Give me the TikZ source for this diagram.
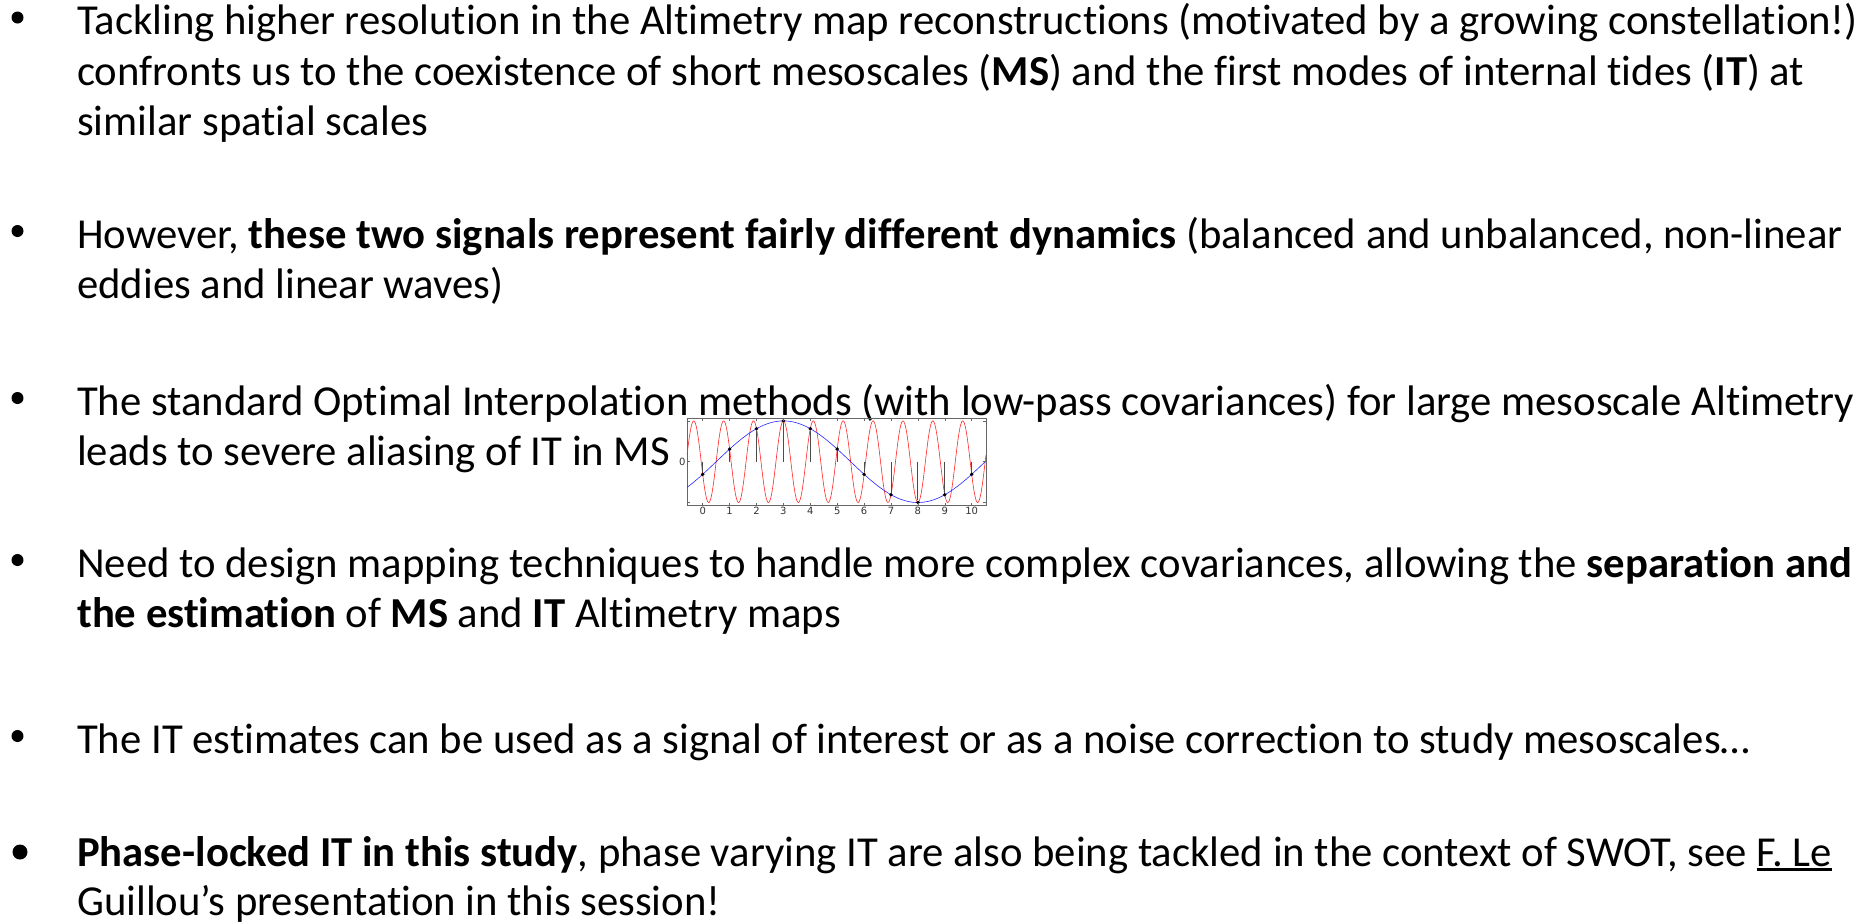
\documentclass[tikz,border=0pt]{standalone}
\usepackage{fontspec}
\setmainfont{Carlito}[Ligatures=NoCommon]
\newfontfamily\plotfont{DejaVu Sans}
\usetikzlibrary{positioning}
\tikzset{
    line/.style={anchor=base west, inner sep=0pt, font=\fontsize{42.7}{50}\selectfont},
    dot/.style={circle, fill, inner sep=0pt, minimum size=12pt},
    frame/.style={draw=black!60, line width=0.6pt},
    stem/.style={draw=black!70, line width=0.9pt},
    sample/.style={circle, fill, inner sep=0pt, minimum size=3.8pt},
    ticklabel/.style={inner sep=1.5pt, font=\plotfont\fontsize{10}{10}\selectfont, text=black!80}
}
\newsavebox\ulbox
\newcommand\ulink[1]{\sbox\ulbox{#1}\rlap{\rule[-5pt]{\wd\ulbox}{2.6pt}}\usebox\ulbox}

\begin{document}
\begin{tikzpicture}[x=1pt,y=-1pt]
    \useasboundingbox (0,0) rectangle (1870,922);

    % Draw the bullets
    \foreach \y[count=\c] in {17.5, 231, 398, 560, 736}{
        \node[dot] (b\c) at (17.5,\y) {};
    }
    \node[dot, minimum size=15pt] (b6) at (20,852) {};

    % Draw the text lines
    \node[line] (t11) at (77,34.5) {Tackling higher resolution in the Altimetry map reconstructions (motivated by a growing constellation!)};
    \node[line] (t12) at (77,85) {confronts us to the coexistence of short mesoscales (\textbf{MS}) and the first modes of internal tides (\textbf{IT}) at};
    \node[line] (t13) at (77,135.5) {similar spatial scales};

    \node[line] (t21) at (77,248) {However, \textbf{these two signals represent fairly different dynamics} (balanced and unbalanced, non-linear};
    \node[line] (t22) at (77,298.5) {eddies and linear waves)};

    \node[line] (t31) at (77,415) {The standard Optimal Interpolation methods (with low-pass covariances) for large mesoscale Altimetry};
    \node[line] (t32) at (77,465.5) {leads to severe aliasing of IT in MS};

    \node[line] (t41) at (77,577) {Need to design mapping techniques to handle more complex covariances, allowing the \textbf{separation and}};
    \node[line] (t42) at (77,627.5) {\textbf{the estimation} of \textbf{MS} and \textbf{IT} Altimetry maps};

    \node[line] (t51) at (77,753) {The IT estimates can be used as a signal of interest or as a noise correction to study mesoscales…};

    \node[line] (t61) at (77,866) {\textbf{Phase-locked IT in this study}, phase varying IT are also being tackled in the context of SWOT, see \ulink{F. Le}};
    \node[line] (t62) at (77,915) {Guillou’s presentation in this session!};

    % Draw the small aliasing plot
    \begin{scope}[shift={(702.7pt,-461.7pt)}, x=26.9pt, y=40.8pt]
        \draw[frame] (-0.58,-1.07) rectangle (10.53,1.07);
        \draw[red!85, line width=0.6pt, domain=-0.58:10.53, samples=500, smooth] plot (\x, {sin(324*\x+198)});
        \draw[blue!85, line width=0.6pt, domain=-0.58:10.53, samples=120, smooth] plot (\x, {sin(36*\x-18)});

        % stems and samples
        \foreach \i in {0,...,10}{
            \coordinate (z\i) at (\i,0);
            \node[sample] (s\i) at (\i,{sin(36*\i-18)}) {};
            \draw[stem] (z\i) -- (s\i);
        }

        % ticks
        \foreach \i in {0,...,10}{
            \draw[frame] (\i,-1.07) -- ++(0,0.07);
            \draw[frame] (\i,1.07) -- ++(0,-0.07);
            \node[ticklabel, below] (xl\i) at (\i,-1.07) {\i};
        }
        \foreach \v in {-1,0,1}{
            \draw[frame] (-0.58,\v) -- ++(0.12,0);
            \draw[frame] (10.53,\v) -- ++(-0.12,0);
        }
        \node[ticklabel, left] (yl0) at (-0.58,0) {0};
    \end{scope}
\end{tikzpicture}
\end{document}
